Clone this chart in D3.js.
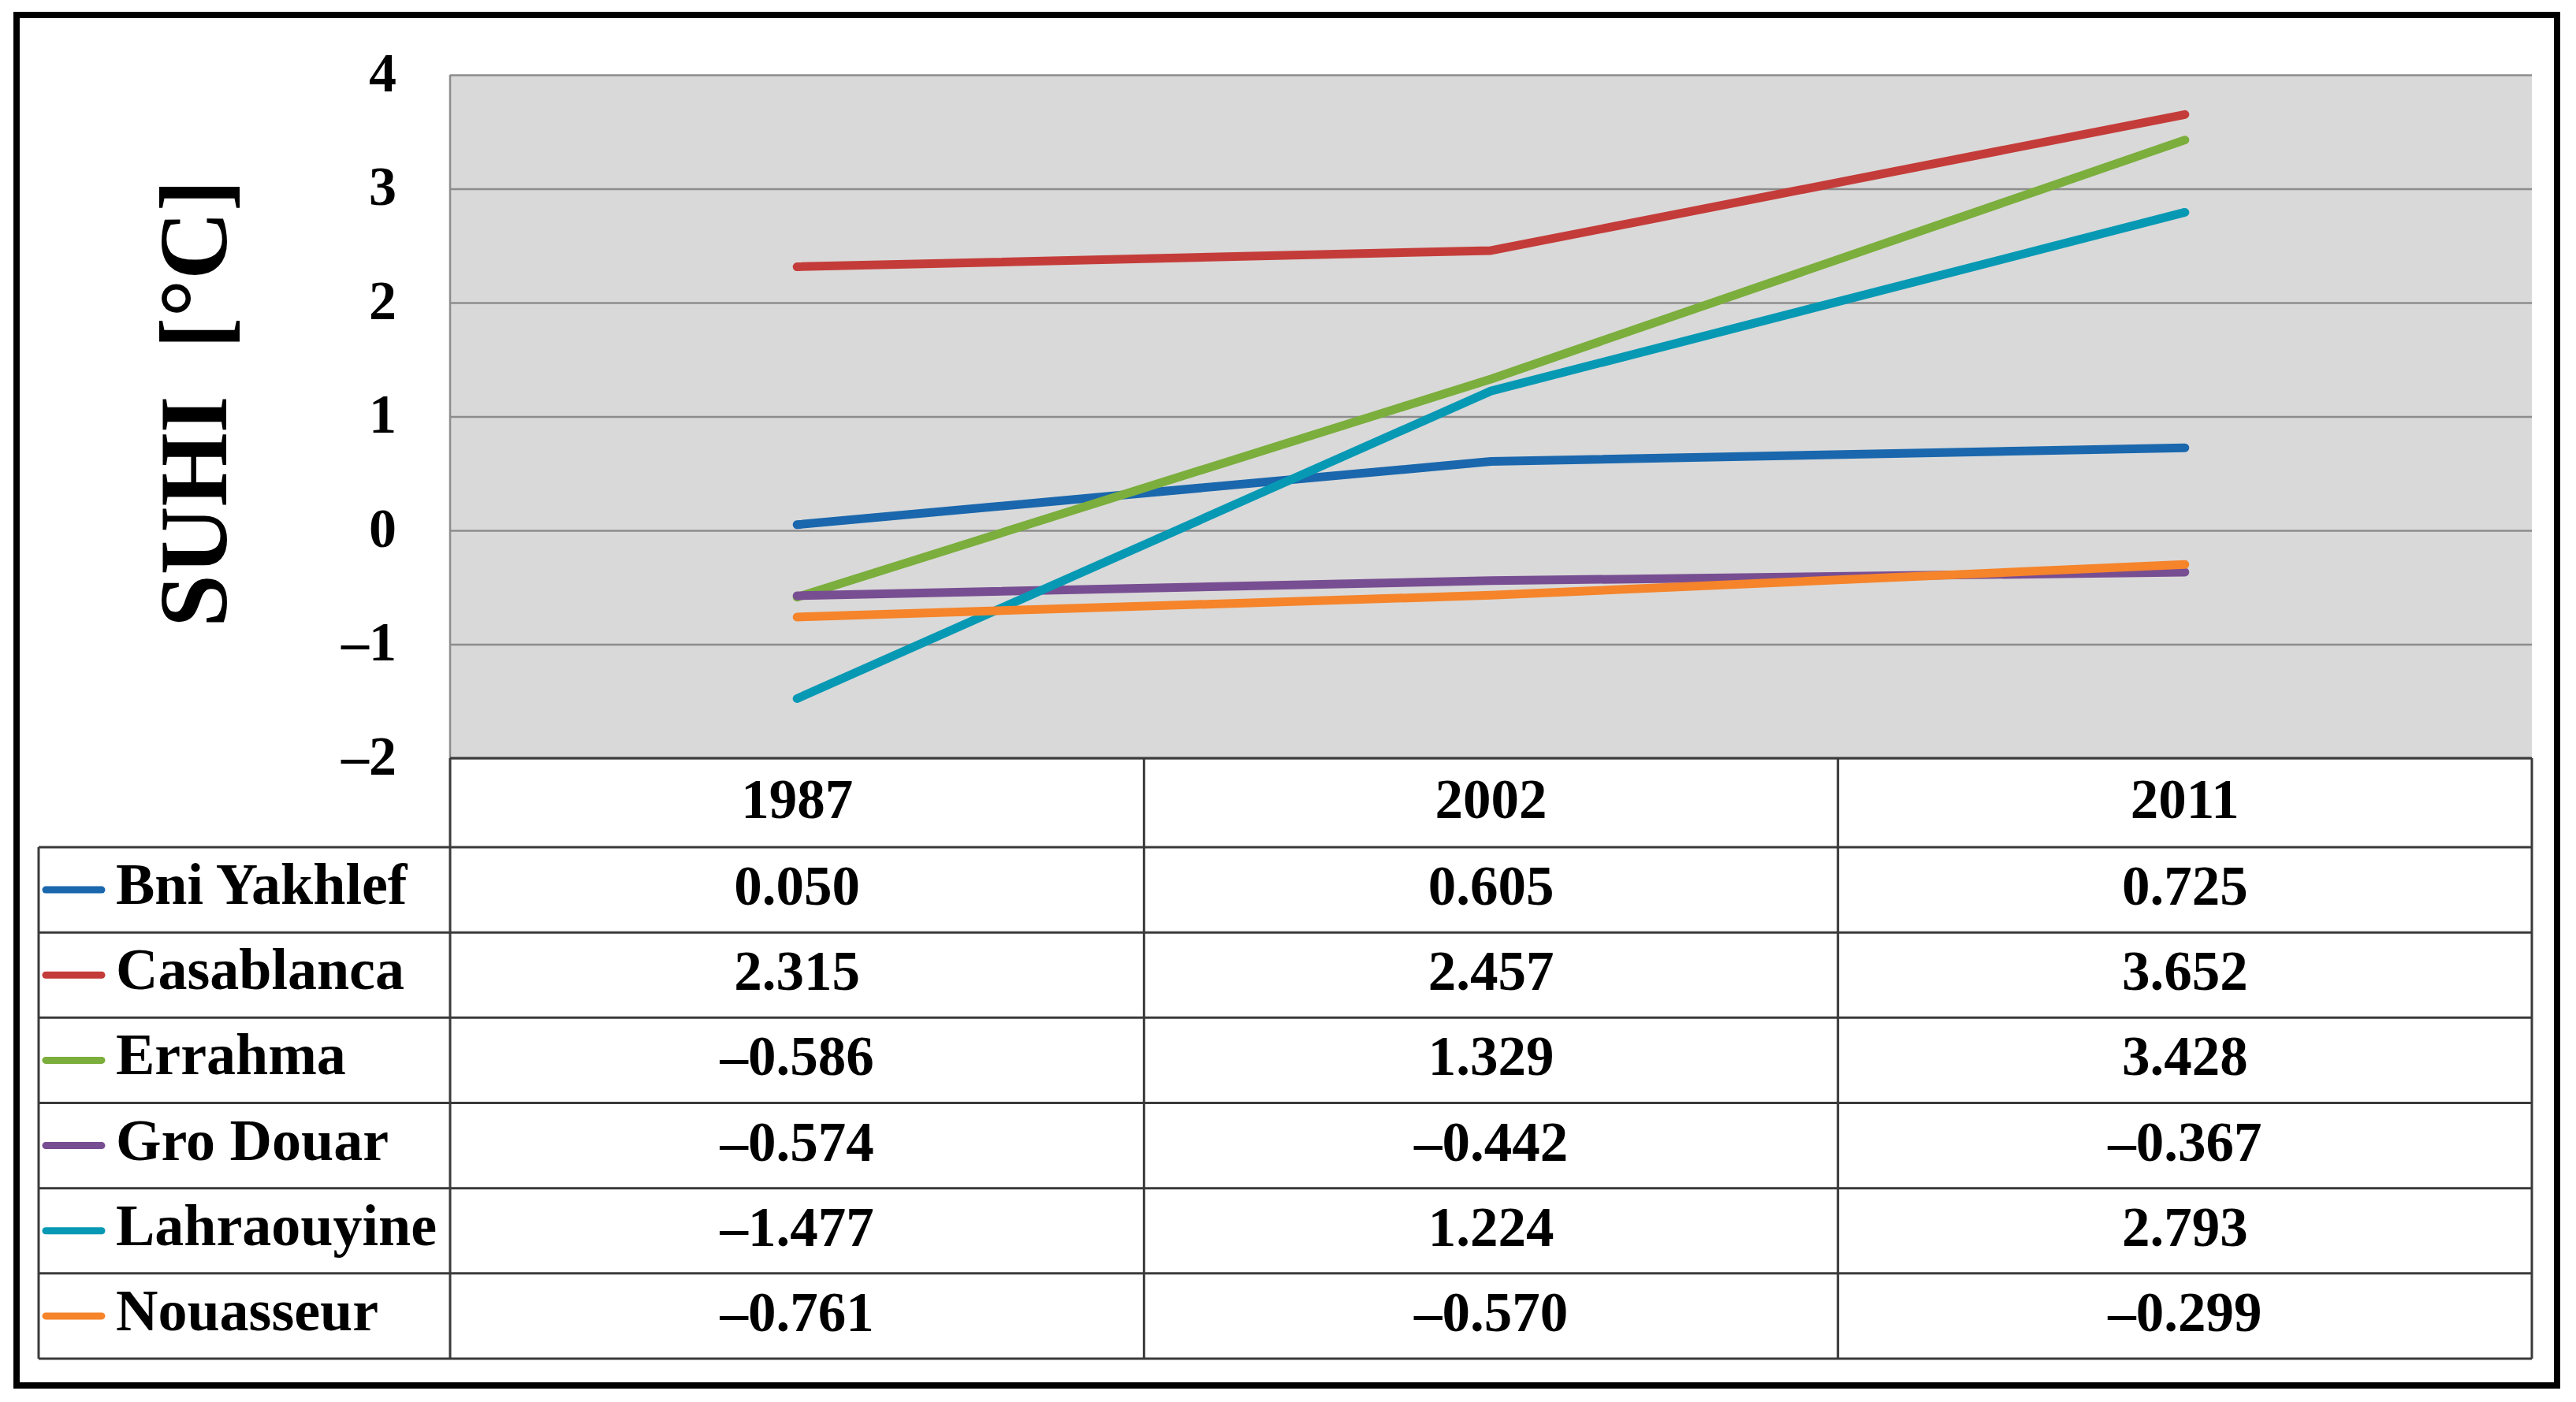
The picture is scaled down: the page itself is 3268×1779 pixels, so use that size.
<!DOCTYPE html>
<html>
<head>
<meta charset="utf-8">
<script src="https://cdn.jsdelivr.net/npm/d3@7"></script>
<style>
  body { margin: 0; background: #fff; }
  text { font-family: "Liberation Serif", "DejaVu Serif", serif; font-weight: bold; fill: #000; }
</style>
</head>
<body>
<div id="chart"></div>
<script>
const years = ['1987', '2002', '2011'];
const sites = ['Bni Yakhlef', 'Casablanca', 'Errahma', 'Gro Douar', 'Lahraouyine', 'Nouasseur'];
const bniYakhlef = [0.050, 0.605, 0.725];
const casablanca = [2.315, 2.457, 3.652];
const errahma = [-0.586, 1.329, 3.428];
const groDouar = [-0.574, -0.442, -0.367];
const lahraouyine = [-1.477, 1.224, 2.793];
const nouasseur = [-0.761, -0.570, -0.299];
const colors = ['#1a67ad', '#c43c39', '#7bae3c', '#784e92', '#0799b4', '#f5842b'];
const yTicks = [-2, -1, 0, 1, 2, 3, 4];

const series = [bniYakhlef, casablanca, errahma, groDouar, lahraouyine, nouasseur]
  .map((values, i) => ({ name: sites[i], values: values, color: colors[i] }));

const w = 3268;
const h = 1779;
const svg = d3.select('#chart').append('svg')
  .attr('width', w)
  .attr('height', h);

// plot area and table geometry
const [x0, y0, x1, y1] = [571, 95, 3212, 962];
const headerBottom = 1075;
const tableBottom = 1724;
const legendLeft = 49;

const xScale = d3.scaleBand().domain(years).range([x0, x1]);
const yScale = d3.scaleLinear().domain([-2, 4]).range([y1, y0]);
const rowScale = d3.scaleBand().domain(sites).range([headerBottom, tableBottom]);

// outer frame
svg.append('rect')
  .attr('x', 21).attr('y', 19)
  .attr('width', 3223).attr('height', 1739)
  .attr('fill', 'none')
  .attr('stroke', '#000')
  .attr('stroke-width', 8);

// plot background
svg.append('rect')
  .attr('x', x0).attr('y', y0)
  .attr('width', x1 - x0).attr('height', y1 - y0)
  .attr('fill', '#d9d9d9');

// gridlines + tick labels
const yAxis = d3.axisLeft(yScale)
  .tickValues(yTicks)
  .tickSize(-(x1 - x0))
  .tickPadding(68)
  .tickFormat(d => d3.format('d')(d).replace('−', '–'));
const gy = svg.append('g').attr('transform', `translate(${x0}, 0)`).call(yAxis);
gy.select('.domain').remove();
gy.selectAll('.tick line').attr('stroke', '#8c8c8c').attr('stroke-width', 2.5);
gy.selectAll('.tick text')
  .attr('font-size', 70)
  .attr('font-family', '"Liberation Serif", serif')
  .attr('font-weight', 'bold')
  .attr('fill', '#000')
  .attr('dy', 20);

// left edge of plot area
svg.append('line')
  .attr('x1', x0).attr('x2', x0)
  .attr('y1', y0).attr('y2', y1)
  .attr('stroke', '#8c8c8c').attr('stroke-width', 2.5);

// y title
svg.append('text')
  .attr('transform', `translate(287, 512) rotate(-90)`)
  .attr('text-anchor', 'middle')
  .attr('font-size', 122)
  .attr('textLength', 568)
  .attr('lengthAdjust', 'spacingAndGlyphs')
  .style('white-space', 'pre')
  .text('SUHI  [°C]');

// lines
const line = d3.line()
  .x((d, i) => xScale(years[i]) + xScale.bandwidth() / 2)
  .y(d => yScale(d));

svg.selectAll('path.series')
  .data(series)
  .enter()
  .append('path')
  .attr('class', 'series')
  .attr('d', d => line(d.values))
  .attr('fill', 'none')
  .attr('stroke', d => d.color)
  .attr('stroke-width', 11)
  .attr('stroke-linecap', 'round')
  .attr('stroke-linejoin', 'round');

// data table
const tbl = svg.append('g');
const stroke = '#3a3a3a';
const sw = 3;
const hline = (xa, xb, y) => tbl.append('line')
  .attr('x1', xa).attr('x2', xb).attr('y1', y).attr('y2', y)
  .attr('stroke', stroke).attr('stroke-width', sw);
const vline = (x, ya, yb) => tbl.append('line')
  .attr('x1', x).attr('x2', x).attr('y1', ya).attr('y2', yb)
  .attr('stroke', stroke).attr('stroke-width', sw);

hline(x0, x1, y1);
sites.forEach(s => hline(legendLeft, x1, rowScale(s)));
hline(legendLeft, x1, tableBottom);
vline(legendLeft, headerBottom, tableBottom);
years.forEach(yr => vline(xScale(yr), y1, tableBottom));
vline(x1, y1, tableBottom);

// header
tbl.selectAll('text.year')
  .data(years)
  .enter()
  .append('text')
  .attr('class', 'year')
  .attr('x', d => xScale(d) + xScale.bandwidth() / 2)
  .attr('y', (y1 + headerBottom) / 2 + 19)
  .attr('text-anchor', 'middle')
  .attr('font-size', 71)
  .text(d => d);

// rows
const fmt = v => d3.format('.3f')(v).replace('−', '–');
const rows = tbl.selectAll('g.row')
  .data(series)
  .enter()
  .append('g')
  .attr('class', 'row')
  .attr('transform', d => `translate(0, ${rowScale(d.name) + rowScale.bandwidth() / 2})`);

rows.append('line')
  .attr('x1', 58).attr('x2', 129)
  .attr('y1', 0).attr('y2', 0)
  .attr('stroke', d => d.color)
  .attr('stroke-width', 9)
  .attr('stroke-linecap', 'round');

rows.append('text')
  .attr('x', 147)
  .attr('y', 18)
  .attr('font-size', 74)
  .text(d => d.name);

rows.selectAll('text.val')
  .data(d => d.values)
  .enter()
  .append('text')
  .attr('class', 'val')
  .attr('x', (d, i) => xScale(years[i]) + xScale.bandwidth() / 2)
  .attr('y', 19)
  .attr('text-anchor', 'middle')
  .attr('font-size', 71)
  .text(d => fmt(d));
</script>
</body>
</html>
